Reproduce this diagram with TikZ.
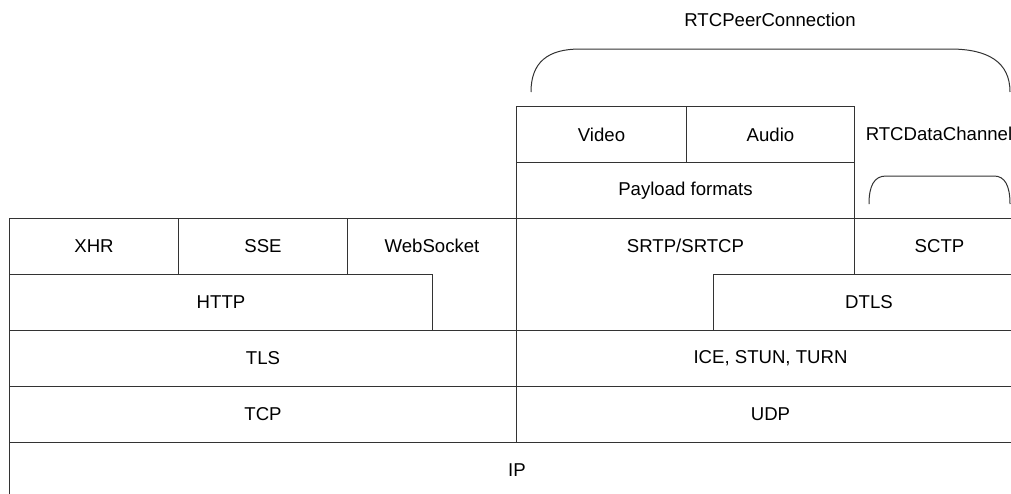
\documentclass[tikz,border=0pt]{standalone}
\usepackage{fontspec}
\setmainfont{Liberation Sans}
\newcommand{\layerfont}{\fontsize{18.6}{22}\selectfont}

\begin{document}
\begin{tikzpicture}[x=1pt, y=-1pt, line width=1pt, draw=black!80,
        layer/.style={draw=black!80, fill=white, rectangle, anchor=north west, inner sep=0pt,
            minimum height=56pt, font=\layerfont},
        tall/.style={layer, minimum height=112pt},
        caption/.style={font=\layerfont, inner sep=0pt}]
    \useasboundingbox (0, 0) rectangle (1011, 493);
    \clip (0, 0) rectangle (1011, 493);

    % browser side
    \node[layer, minimum width=169pt] (xhr) at (9, 218) {XHR};
    \node[layer, minimum width=169pt] (sse) at (178, 218) {SSE};
    \node[tall, minimum width=169pt, label={[caption, anchor=center, yshift=-28pt]north:WebSocket}] (websocket) at (347, 218) {};
    \node[layer, minimum width=423pt] (http) at (9, 274) {HTTP};
    \node[layer, minimum width=507pt] (tls) at (9, 330) {TLS};
    \node[layer, minimum width=507pt] (tcp) at (9, 386) {TCP};
    \node[layer, minimum width=1015pt] (ip) at (9, 442) {IP};

    % webrtc side
    \node[layer, minimum width=170pt] (video) at (516, 106) {Video};
    \node[layer, minimum width=168pt] (audio) at (686, 106) {Audio};
    \node[layer, minimum width=338pt] (payload) at (516, 162) {Payload formats};
    \node[tall, minimum width=338pt, label={[caption, anchor=center, yshift=-28pt]north:SRTP/SRTCP}] (srtp) at (516, 218) {};
    \node[layer, minimum width=170pt] (sctp) at (854, 218) {SCTP};
    \node[layer, minimum width=311pt] (dtls) at (713, 274) {DTLS};
    \node[layer, minimum width=508pt] (ice) at (516, 330) {ICE, STUN, TURN};
    \node[layer, minimum width=508pt] (udp) at (516, 386) {UDP};

    % brackets
    \node[caption] (peerconn) at (770, 20) {RTCPeerConnection};
    \draw (531, 92) .. controls (531, 62) and (548, 49) .. (580, 49) -- (950, 49)
        .. controls (988, 49) and (1010, 62) .. (1010, 92);
    \node[caption] (datachan) at (939, 134) {RTCDataChannel};
    \draw (869, 204) .. controls (869, 186) and (874, 176) .. (886, 176) -- (994, 176)
        .. controls (1005, 176) and (1010, 186) .. (1010, 204);
\end{tikzpicture}
\end{document}
